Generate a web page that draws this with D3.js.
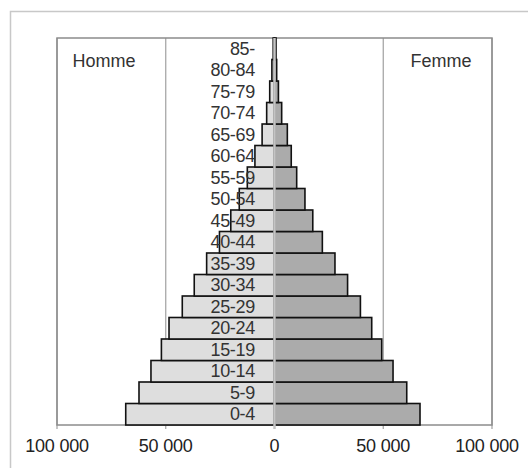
<!DOCTYPE html>
<html><head><meta charset="utf-8">
<script src="https://cdn.jsdelivr.net/npm/d3@7"></script>
<style>body{margin:0;background:#fff}svg{display:block;font-family:"Liberation Sans",Arial,sans-serif}</style>
</head><body>
<svg id="c" width="528" height="468"></svg>
<script>
const ages = ["0-4","5-9","10-14","15-19","20-24","25-29","30-34","35-39","40-44","45-49","50-54","55-59","60-64","65-69","70-74","75-79","80-84","85-"];
const men = [68400,62300,56800,52000,48500,42400,36900,31200,25300,20100,16200,12500,9000,5700,3600,2200,1200,600];
const women = [66900,60800,54500,49300,44700,39500,33600,27800,22000,17600,14000,10200,7700,5900,3300,1800,1000,700];
const ticks = [-100000,-50000,0,50000,100000];
const tickLabels = ["100 000","50 000","0","50 000","100 000"];
const seriesNames = ["Homme","Femme"];

const svg = d3.select("#c");
const L=57,R=492,T=38,B=425;
const x = d3.scaleLinear().domain([-100000,100000]).range([L,R]);
const y = d3.scaleBand().domain(ages.slice().reverse()).range([T,B]).padding(0);

svg.append("rect").attr("x",10.5).attr("y",11.5).attr("width",540).attr("height",480)
  .attr("fill","#fff").attr("stroke","#c8c8c8").attr("stroke-width",1.5);

// gridlines
svg.append("g").selectAll("line").data(ticks.filter(t=>t!==0)).join("line")
  .attr("x1",d=>x(d)).attr("x2",d=>x(d)).attr("y1",T).attr("y2",B+4)
  .attr("stroke","#a0a0a0").attr("stroke-width",1.2);

svg.append("rect").attr("x",L).attr("y",T).attr("width",R-L).attr("height",B-T)
  .attr("fill","none").attr("stroke","#8c8c8c").attr("stroke-width",1.5);

const data = ages.map((a,i)=>({age:a,m:men[i],f:women[i]}));
svg.append("g").selectAll("rect").data(data).join("rect")
  .attr("x",d=>x(-d.m)).attr("width",d=>x(0)-x(-d.m))
  .attr("y",d=>y(d.age)).attr("height",y.bandwidth())
  .attr("fill","#dedede").attr("stroke","#111").attr("stroke-width",1.6);
svg.append("g").selectAll("rect").data(data).join("rect")
  .attr("x",x(0)).attr("width",d=>x(d.f)-x(0))
  .attr("y",d=>y(d.age)).attr("height",y.bandwidth())
  .attr("fill","#ababab").attr("stroke","#111").attr("stroke-width",1.6);

// zero axis line
svg.append("line").attr("x1",x(0)).attr("x2",x(0)).attr("y1",T).attr("y2",B+4)
  .attr("stroke","#c4c4c4").attr("stroke-width",2.5);

// category labels
svg.append("g").selectAll("text").data(ages).join("text")
  .attr("x",255).attr("y",d=>y(d)+y.bandwidth()/2+1)
  .attr("text-anchor","end").attr("dominant-baseline","middle")
  .attr("font-size",18).attr("letter-spacing",-0.3).attr("fill","#333").text(d=>d);

// tick labels
svg.append("g").selectAll("text").data(ticks).join("text")
  .attr("x",(d,i)=> i===ticks.length-1 ? x(d)-5 : x(d)).attr("y",447)
  .attr("text-anchor","middle").attr("dominant-baseline","middle")
  .attr("font-size",18).attr("letter-spacing",-0.2).attr("fill","#222").text((d,i)=>tickLabels[i]);

svg.append("text").attr("x",104).attr("y",62).attr("text-anchor","middle").attr("dominant-baseline","middle")
  .attr("font-size",18).attr("fill","#333").text(seriesNames[0]);
svg.append("text").attr("x",441).attr("y",62).attr("text-anchor","middle").attr("dominant-baseline","middle")
  .attr("font-size",18).attr("fill","#333").text(seriesNames[1]);
</script>
</body></html>
